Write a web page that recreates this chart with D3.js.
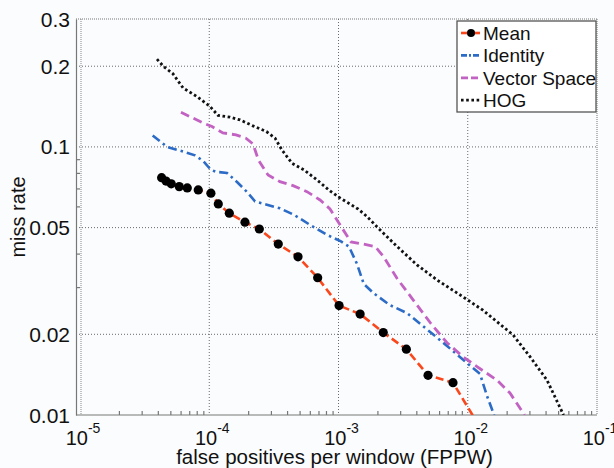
<!DOCTYPE html>
<meta charset="utf-8">
<style>
body { margin: 0; background: #fbfcfd; }
svg text { font-family: Arial, 'Liberation Sans', sans-serif; fill: #111; }
</style>
<svg width="614" height="468"></svg>
<script src="https://d3js.org/d3.v7.min.js"></script>
<script>
// values
var xTicks = [1e-5, 1e-4, 1e-3, 1e-2, 1e-1];
var xTickExp = ["-5", "-4", "-3", "-2", "-1"];
var yTicks = [0.01, 0.02, 0.05, 0.1, 0.2, 0.3];
var yTickLabels = ["0.01", "0.02", "0.05", "0.1", "0.2", "0.3"];
var seriesNames = ["Mean", "Identity", "Vector Space", "HOG"];

var meanX = [4.28e-5, 4.63e-5, 5.08e-5, 5.86e-5, 6.76e-5, 8.22e-5, 1.03e-4, 1.175e-4, 1.43e-4, 1.89e-4,
  2.44e-4, 3.42e-4, 4.86e-4, 6.9e-4, 1.01e-3, 1.47e-3, 2.22e-3, 3.35e-3, 4.93e-3, 7.69e-3, 1.13e-2];
var meanY = [0.0768, 0.0746, 0.0728, 0.0711, 0.0703, 0.0691, 0.0672, 0.0613, 0.0566, 0.0524,
  0.0494, 0.0434, 0.0389, 0.0325, 0.0256, 0.0238, 0.0203, 0.0176, 0.01406, 0.0132, 0.0097];

var identityX = [3.65e-5, 4.71e-5, 6.27e-5, 7.76e-5, 8.95e-5, 1.03e-4, 1.13e-4, 1.37e-4, 1.64e-4, 1.96e-4,
  2.26e-4, 2.75e-4, 3.52e-4, 4.53e-4, 6.02e-4, 8.15e-4, 1.045e-3, 1.205e-3, 1.39e-3, 1.57e-3,
  1.88e-3, 2.5e-3, 3.39e-3, 4.59e-3, 6.55e-3, 9.86e-3, 1.245e-2, 1.41e-2, 1.6e-2];
var identityY = [0.1104, 0.1, 0.0961, 0.093, 0.0887, 0.0821, 0.0807, 0.08, 0.074, 0.0679,
  0.0626, 0.061, 0.059, 0.0558, 0.0512, 0.047, 0.0444, 0.0425, 0.0366, 0.0308,
  0.0284, 0.0257, 0.024, 0.0213, 0.0185, 0.01563, 0.01422, 0.01177, 0.01];

var vectorX = [6.04e-5, 7.1e-5, 8.95e-5, 1.05e-4, 1.276e-4, 1.61e-4, 1.92e-4, 2.18e-4, 2.4e-4, 2.85e-4,
  3.52e-4, 4.45e-4, 5.7e-4, 7.2e-4, 8.59e-4, 1.027e-3, 1.25e-3, 1.55e-3, 1.92e-3, 2.23e-3,
  2.84e-3, 3.84e-3, 5.2e-3, 6.91e-3, 9.18e-3, 1.18e-2, 1.68e-2, 2.12e-2, 2.75e-2];
var vectorY = [0.1348, 0.1297, 0.1229, 0.1191, 0.1128, 0.1109, 0.1078, 0.1026, 0.0894, 0.0786,
  0.0742, 0.0717, 0.0681, 0.0634, 0.0587, 0.0512, 0.0442, 0.0434, 0.0425, 0.039,
  0.0323, 0.0266, 0.0219, 0.0186, 0.0165, 0.01514, 0.0135, 0.01208, 0.01];

var hogX = [3.94e-5, 4.43e-5, 5.24e-5, 6.27e-5, 8.04e-5, 1.013e-4, 1.169e-4, 1.447e-4, 1.73e-4, 2.18e-4,
  2.77e-4, 3.23e-4, 3.65e-4, 4.37e-4, 5.41e-4, 6.82e-4, 8.59e-4, 1.027e-3, 1.416e-3, 1.66e-3,
  2.02e-3, 2.84e-3, 4.05e-3, 5.78e-3, 9.18e-3, 1.31e-2, 2.24e-2, 3.03e-2, 4.1e-2, 5.51e-2];
var hogY = [0.2125, 0.1996, 0.1874, 0.166, 0.1541, 0.1416, 0.1311, 0.1291, 0.1261, 0.1198,
  0.1141, 0.1078, 0.0974, 0.0869, 0.0821, 0.0753, 0.0685, 0.0645, 0.0587, 0.055,
  0.0499, 0.0425, 0.0363, 0.0319, 0.0276, 0.0246, 0.0199, 0.0165, 0.0135, 0.01];

var svg = d3.select("svg"),
    margin = {top: 19, right: 17, bottom: 53, left: 80},
    width = +svg.attr("width") - margin.left - margin.right,
    height = +svg.attr("height") - margin.top - margin.bottom;

svg.append("rect").attr("width", 614).attr("height", 468).attr("fill", "#fbfcfd");

var g = svg.append("g").attr("transform", "translate(" + margin.left + "," + margin.top + ")");

var x = d3.scaleLog().domain([1e-5, 1e-1]).range([0, width]);
var y = d3.scaleLog().domain([0.01, 0.3]).range([height, 0]);

function zip(xs, ys) { return xs.map(function(v, i) { return {x: v, y: ys[i]}; }); }

var series = [
  {name: seriesNames[0], data: zip(meanX, meanY), color: "#fa471c", dash: "8,4", width: 2.6},
  {name: seriesNames[1], data: zip(identityX, identityY), color: "#2c6bc6", dash: "9,4,2.5,4", width: 2.6},
  {name: seriesNames[2], data: zip(vectorX, vectorY), color: "#c262c2", dash: "9,5", width: 2.8},
  {name: seriesNames[3], data: zip(hogX, hogY), color: "#111", dash: "2.6,2.6", width: 2.8}
];

// grid
var gridColor = "#6a6a6a";
g.append("g").selectAll("line").data(xTicks.slice(1, -1)).enter().append("line")
    .attr("x1", function(d) { return x(d); }).attr("x2", function(d) { return x(d); })
    .attr("y1", 0).attr("y2", height)
    .attr("stroke", gridColor).attr("stroke-dasharray", "1,2");
g.append("g").selectAll("line").data(yTicks.slice(1, -1)).enter().append("line")
    .attr("y1", function(d) { return y(d); }).attr("y2", function(d) { return y(d); })
    .attr("x1", -4).attr("x2", width)
    .attr("stroke", gridColor).attr("stroke-dasharray", "1,2");

// top and right border dotted
g.append("line").attr("x1", -4).attr("x2", width).attr("y1", 0).attr("y2", 0)
    .attr("stroke", "#777").attr("stroke-dasharray", "1,1");
g.append("line").attr("x1", width).attr("x2", width).attr("y1", 0).attr("y2", height)
    .attr("stroke", "#777").attr("stroke-dasharray", "1,1");
g.append("line").attr("x1", 1).attr("x2", 1).attr("y1", 0).attr("y2", height)
    .attr("stroke", "#888").attr("stroke-dasharray", "1,1");

// minor ticks
var xMinor = [];
[1e-5, 1e-4, 1e-3, 1e-2].forEach(function(d) { for (var k = 2; k < 10; k++) xMinor.push(d * k); });
var yMinor = [0.03, 0.04, 0.06, 0.07, 0.08, 0.09];

var xAxis = g.append("g")
    .attr("transform", "translate(0," + height + ")")
    .call(d3.axisBottom(x).tickValues(xMinor).tickSize(-4).tickSizeOuter(0).tickFormat(""));
var yAxis = g.append("g")
    .attr("transform", "translate(-4,0)")
    .call(d3.axisLeft(y).tickValues(yMinor).tickSize(-4).tickSizeOuter(0).tickFormat(""));
[xAxis, yAxis].forEach(function(a) {
  a.selectAll("path, line").attr("stroke", "#777").attr("stroke-width", 1.2);
});
xAxis.select("path").attr("d", "M-4,0H" + width);

// tick labels
g.append("g").selectAll("text").data(yTicks).enter().append("text")
    .attr("x", -10).attr("y", function(d) { return y(d); })
    .attr("dy", "0.36em").attr("text-anchor", "end")
    .style("font-size", "21px")
    .text(function(d, i) { return yTickLabels[i]; });

var xl = g.append("g").selectAll("text").data(xTicks).enter().append("text")
    .attr("x", function(d) { return x(d) + 3; }).attr("y", height + 30)
    .attr("text-anchor", "middle")
    .style("font-size", "20px");
xl.append("tspan").text("10");
xl.append("tspan").attr("dy", -12).style("font-size", "14px")
    .text(function(d, i) { return xTickExp[i]; });

// axis titles
g.append("text")
    .attr("x", width / 2 - 4).attr("y", height + 49)
    .attr("text-anchor", "middle").style("font-size", "20.5px")
    .text("false positives per window (FPPW)");
g.append("text")
    .attr("transform", "translate(" + (-55) + "," + (height / 2) + ") rotate(-90)")
    .attr("text-anchor", "middle").style("font-size", "20px")
    .text("miss rate");

// curves
g.append("clipPath").attr("id", "clip").append("rect")
    .attr("width", width).attr("height", height);

var line = d3.line()
    .x(function(d) { return x(d.x); })
    .y(function(d) { return y(d.y); });

var plot = g.append("g").attr("clip-path", "url(#clip)");
series.forEach(function(s) {
  plot.append("path")
      .datum(s.data)
      .attr("fill", "none")
      .attr("stroke", s.color)
      .attr("stroke-width", s.width)
      .attr("stroke-dasharray", s.dash)
      .attr("d", line);
});

plot.selectAll("circle").data(series[0].data.filter(function(d) { return d.y >= 0.01; }))
  .enter().append("circle")
    .attr("cx", function(d) { return x(d.x); })
    .attr("cy", function(d) { return y(d.y); })
    .attr("r", 4.6)
    .attr("fill", "#000");

// legend
var legend = svg.append("g").attr("transform", "translate(457,21)");
legend.append("rect").attr("width", 139).attr("height", 91)
    .attr("fill", "#fff").attr("stroke", "#555").attr("stroke-width", 1.3);
var item = legend.selectAll(".item").data(series).enter().append("g")
    .attr("transform", function(d, i) { return "translate(0," + (12 + i * 22.4) + ")"; });
item.append("line")
    .attr("x1", 4).attr("x2", 23)
    .attr("stroke", function(d) { return d.color; })
    .attr("stroke-width", function(d) { return d.width; })
    .attr("stroke-dasharray", function(d, i) { return ["20", "6,2,2,2,6", "7,3", "2.6,2.6"][i]; });
legend.append("circle").attr("cx", 14).attr("cy", 12).attr("r", 4).attr("fill", "#000");
item.append("text")
    .attr("x", 26).attr("dy", "0.36em")
    .style("font-size", "19px")
    .text(function(d) { return d.name; });
</script>
